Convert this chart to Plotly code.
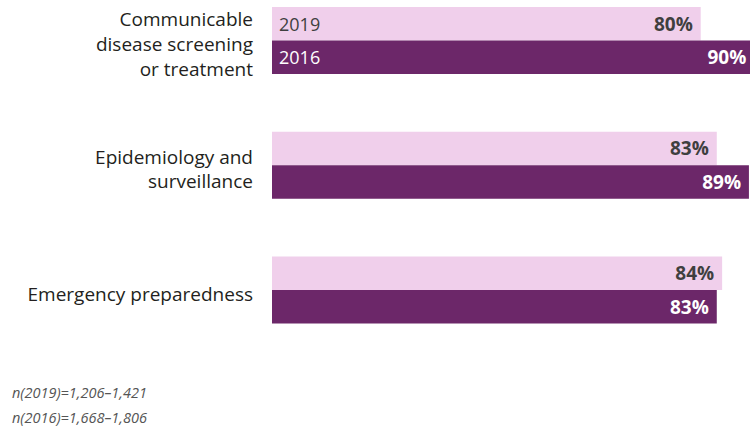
import plotly.graph_objects as go

# Share of respondents reporting each capability, by survey year
categories = [
    "Communicable<br>disease screening<br>or treatment",
    "Epidemiology and<br>surveillance",
    "Emergency preparedness",
]
values_2019 = [80, 83, 84]
values_2016 = [90, 89, 83]
years = ["2019", "2016"]
footnotes = ["n(2019)=1,206\u20131,421", "n(2016)=1,668\u20131,806"]

LIGHT = "#f0cfeb"
DARK = "#6c2769"
FONT = "Open Sans"

fig = go.Figure()

fig.add_trace(go.Bar(
    y=categories, x=values_2019, name=years[0], orientation="h",
    marker=dict(color=LIGHT, line=dict(width=0)),
    texttemplate="%{x}%\u00a0", textposition="inside",
    insidetextanchor="end",
    textfont=dict(family=FONT, size=19, color="#3f3f3f", weight="bold"),
    hoverinfo="skip",
))
fig.add_trace(go.Bar(
    y=categories, x=values_2016, name=years[1], orientation="h",
    marker=dict(color=DARK, line=dict(width=0)),
    texttemplate="%{x}%\u00a0", textposition="inside",
    insidetextanchor="end",
    textfont=dict(family=FONT, size=19, color="white", weight="bold"),
    hoverinfo="skip",
))

# Year labels inside the first pair of bars
for year, shift, color in [(years[0], 16.7, "#3f3f3f"), (years[1], -16.7, "white")]:
    fig.add_annotation(
        x=0, y=categories[0], xref="x", yref="y",
        text=year, showarrow=False, xanchor="left", yanchor="middle",
        xshift=5, yshift=shift,
        font=dict(family=FONT, size=18, color=color),
    )

# Sample-size notes below the chart
for note, ypos in zip(footnotes, [-0.19, -0.264]):
    fig.add_annotation(
        x=0, y=ypos, xref="paper", yref="paper",
        text=f"<i>{note}</i>", showarrow=False,
        xanchor="left", yanchor="middle", xshift=-262,
        font=dict(family=FONT, size=14.5, color="#555555"),
    )

fig.update_layout(
    width=750, height=430,
    margin=dict(l=272, r=0, t=0, b=100),
    barmode="group", bargap=0.462, bargroupgap=0,
    plot_bgcolor="white", paper_bgcolor="white",
    showlegend=False,
    xaxis=dict(range=[0, 89.2], visible=False, fixedrange=True),
    yaxis=dict(
        range=[2.321, -0.325], showgrid=False, zeroline=False,
        showline=False, ticks="", ticklabelstandoff=18,
        ticklabelshift=-4,
        tickfont=dict(family=FONT, size=19, color="#231f20"),
        fixedrange=True,
    ),
)

fig.write_html("out.html")
